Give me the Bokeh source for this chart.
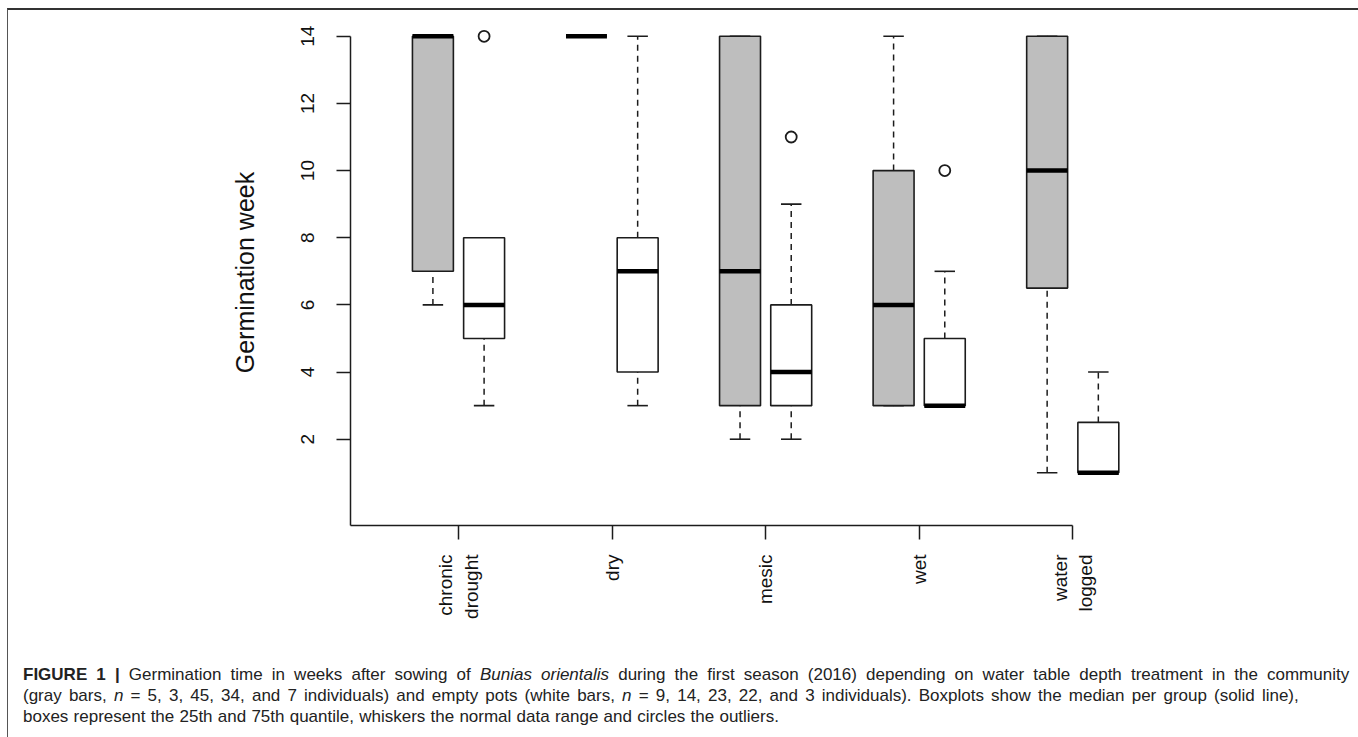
import math
from bokeh.plotting import figure
from bokeh.models import FixedTicker, Div, ColumnDataSource
from bokeh.layouts import column
from bokeh.embed import file_html
from bokeh.resources import INLINE

# ---------------- data ----------------
groups = ["chronic\ndrought", "dry", "mesic", "wet", "water\nlogged"]

# community (gray boxes)
gray_low = [6, 14, 2, 3, 1]
gray_q1 = [7, 14, 3, 3, 6.5]
gray_med = [14, 14, 7, 6, 10]
gray_q3 = [14, 14, 14, 10, 14]
gray_high = [14, 14, 14, 14, 14]

# empty pots (white boxes)
white_low = [3, 3, 2, 3, 1]
white_q1 = [5, 4, 3, 3, 1]
white_med = [6, 7, 4, 3, 1]
white_q3 = [8, 8, 6, 5, 2.5]
white_high = [8, 14, 9, 7, 4]

# outliers of the white boxes
out_group = [0, 2, 3]
out_value = [14, 11, 10]

y_ticks = [2, 4, 6, 8, 10, 12, 14]

# ---------------- layout helpers ----------------
BOXW = 0.8
CAPW = 0.4


def pos(i, k):
    # k = 0 gray, k = 1 white ; groups separated by a gap of one slot
    return 3 * i + 1 + k


def box_source(k, low, q1, med, q3, high):
    x = [pos(i, k) for i in range(len(groups))]
    return ColumnDataSource(dict(
        x=x, low=low, q1=q1, med=med, q3=q3, high=high,
        xl=[v - BOXW / 2 for v in x], xr=[v + BOXW / 2 for v in x],
        cl=[v - CAPW / 2 for v in x], cr=[v + CAPW / 2 for v in x],
    ))


p = figure(width=1348, height=640, x_range=(-0.61, 17.09), y_range=(-0.57, 14.5),
           output_backend="svg", toolbar_location=None,
           min_border_left=342, min_border_right=100,
           min_border_top=9, min_border_bottom=125)
p.outline_line_color = None
p.xgrid.visible = False
p.ygrid.visible = False
p.background_fill_color = "white"
p.border_fill_color = "white"

LC = "#1c1c1c"
for k, fill, data in [(0, "#bebebe", (gray_low, gray_q1, gray_med, gray_q3, gray_high)),
                      (1, "white", (white_low, white_q1, white_med, white_q3, white_high))]:
    src = box_source(k, *data)
    # whiskers
    p.segment(x0="x", x1="x", y0="q3", y1="high", source=src, line_color=LC,
              line_width=1.5, line_dash="6 5")
    p.segment(x0="x", x1="x", y0="low", y1="q1", source=src, line_color=LC,
              line_width=1.5, line_dash="6 5")
    # staples
    p.segment(x0="cl", x1="cr", y0="high", y1="high", source=src, line_color=LC, line_width=1.6)
    p.segment(x0="cl", x1="cr", y0="low", y1="low", source=src, line_color=LC, line_width=1.6)
    # boxes
    p.quad(left="xl", right="xr", bottom="q1", top="q3", source=src,
           fill_color=fill, line_color=LC, line_width=1.6)
    # medians
    p.segment(x0="xl", x1="xr", y0="med", y1="med", source=src, line_color="black",
              line_width=4.5)

# outliers
p.scatter(x=[pos(g, 1) for g in out_group], y=out_value, marker="circle", size=11,
          fill_color="white", line_color=LC, line_width=1.8)

# ---------------- axes ----------------
p.yaxis.ticker = FixedTicker(ticks=y_ticks)
p.xaxis.ticker = FixedTicker(ticks=[3 * i + 1.5 for i in range(len(groups))])
p.xaxis.major_label_overrides = {3 * i + 1.5: g for i, g in enumerate(groups)}
p.xaxis.bounds = (-0.61, 3 * (len(groups) - 1) + 1.5)
p.yaxis.bounds = (-0.57, 14)

for ax in (p.xaxis[0], p.yaxis[0]):
    ax.axis_line_color = LC
    ax.axis_line_width = 1.5
    ax.major_tick_line_color = LC
    ax.major_tick_line_width = 1.5
    ax.major_tick_out = 14
    ax.major_tick_in = 0
    ax.minor_tick_line_color = None
    ax.major_label_text_font = "Liberation Sans"
    ax.major_label_text_font_size = "19px"
    ax.major_label_text_color = "#111111"

p.yaxis.major_label_orientation = "parallel"
p.yaxis.major_label_standoff = 22
p.xaxis.major_label_orientation = math.pi / 2
p.xaxis.major_label_standoff = 15

p.yaxis.axis_label = "Germination week"
p.yaxis.axis_label_text_font = "Liberation Sans"
p.yaxis.axis_label_text_font_size = "25px"
p.yaxis.axis_label_text_font_style = "normal"
p.yaxis.axis_label_text_color = "#111111"
p.yaxis.axis_label_standoff = 40

# ---------------- caption ----------------
caption_html = (
    '<div style="font-family: \'Liberation Sans\', Arial, sans-serif; font-size: 17px; '
    'line-height: 21px; color: #222; white-space: nowrap; padding: 9px 0 0 10px;">'
    '<span style="word-spacing: 4.4px;"><b>FIGURE 1 |</b> Germination time in weeks after sowing of '
    '<i>Bunias orientalis</i> during the first season (2016) depending on water table depth '
    'treatment in the community</span><br>'
    '<span style="word-spacing: 2.45px;">(gray bars, <i>n</i> = 5, 3, 45, 34, and 7 individuals) and '
    'empty pots (white bars, <i>n</i> = 9, 14, 23, 22, and 3 individuals). Boxplots show the median '
    'per group (solid line),</span><br>'
    '<span style="word-spacing: 0.5px;">boxes represent the 25th and 75th quantile, whiskers the '
    'normal data range and circles the outliers.</span>'
    '</div>'
)
cap = Div(text=caption_html, width=1348, height=86)

layout = column(p, cap, spacing=0,
                styles={"margin-top": "8px", "margin-left": "7px",
                        "border-top": "2px solid #333", "border-left": "1px solid #555",
                        "border-right": "1px solid #555", "background": "white"})

open("out.html", "w").write(file_html(layout, INLINE))
